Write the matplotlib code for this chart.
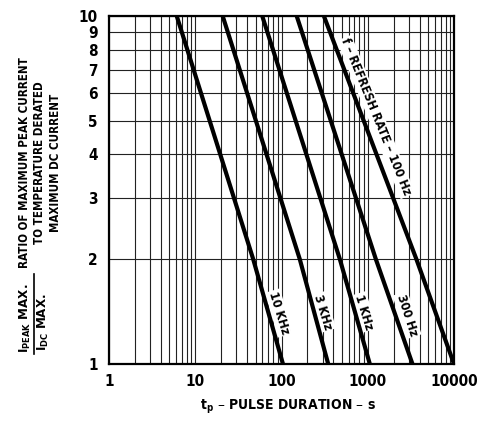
import matplotlib.pyplot as plt
from matplotlib.ticker import FixedLocator, NullFormatter

plt.rcParams.update({'font.family': ['DejaVu Sans'], 'font.stretch': 'condensed',
                     'font.weight': 'bold', 'font.size': 12})

#. data (pulse duration, ratio)
ratio = [10, 2, 1]
t_10k = [6.1, 47, 104]
t_3k = [20.8, 163, 348]
t_1k = [59.8, 475, 1057]
t_300 = [150, 1242, 3300]
t_100 = [310, 3666, 10000]

curves = [t_10k, t_3k, t_1k, t_300, t_100]
labels = ['10 KHz', '3 KHz', '1 KHz', '300 Hz', 'f – REFRESH RATE – 100 Hz']
lab_pos = [(279, 313), (323, 312), (364, 312), (407, 315), (376, 117)]
lab_rot = [-73, -73, -73, -72, -68]

W, H = 478, 433
fig = plt.figure(figsize=(W/100, H/100), dpi=100)
ax = fig.add_axes([109/W, (H-364)/H, 345/W, 348/H])
ax.set_xscale('log')
ax.set_yscale('log')
ax.set_xlim(1, 10000)
ax.set_ylim(1, 10)
ax.set_axisbelow(True)

#. grid
xmaj = [1, 10, 100, 1000, 10000]
xmin = [m*d for d in [1, 10, 100, 1000] for m in range(2, 10)]
ax.xaxis.set_major_locator(FixedLocator(xmaj))
ax.xaxis.set_minor_locator(FixedLocator(xmin))
ax.xaxis.set_minor_formatter(NullFormatter())
ax.set_xticklabels([str(v) for v in xmaj])
yt = list(range(1, 11))
ax.yaxis.set_major_locator(FixedLocator(yt))
ax.yaxis.set_minor_locator(FixedLocator([]))
ax.yaxis.set_minor_formatter(NullFormatter())
ax.set_yticklabels([str(v) for v in yt])
ax.grid(True, which='both', color='#222222', lw=0.8)
ax.tick_params(which='both', length=0, labelsize=11, pad=7)
ax.tick_params(axis='y', pad=8)
for s in ax.spines.values():
    s.set_linewidth(1.6)
    s.set_zorder(4)

for t in curves:
    ax.plot(t, ratio, c='black', lw=3, solid_capstyle='butt', zorder=3)

for lab, (px, py), rot in zip(labels, lab_pos, lab_rot):
    ax.text(px/W, 1-py/H, lab, transform=fig.transFigure, rotation=rot, ha='center', va='center',
            fontsize=9, rotation_mode='anchor', zorder=1,
            bbox=dict(facecolor='white', edgecolor='none', pad=1))

#. axis labels
fig.text(288/W, 1-407/H, r'$\mathbf{t_p}$ – PULSE DURATION – s', ha='center', va='center', fontsize=10)
fig.text(40/W, 1-163/H, 'RATIO OF MAXIMUM PEAK CURRENT\nTO TEMPERATURE DERATED\nMAXIMUM DC CURRENT',
         rotation=90, ha='center', va='center', fontsize=8.3, linespacing=1.25, multialignment='center')
fig.text(25/W, 1-318/H, r'I$_{\mathbf{PEAK}}$ MAX.', rotation=90, ha='center', va='center', fontsize=9.5)
fig.text(43/W, 1-322/H, r'I$_{\mathbf{DC}}$ MAX.', rotation=90, ha='center', va='center', fontsize=9.5)
fig.add_artist(plt.Line2D([34/W, 34/W], [1-274/H, 1-354/H], color='black', lw=1.2))

plt.savefig('out.png', dpi=100)
